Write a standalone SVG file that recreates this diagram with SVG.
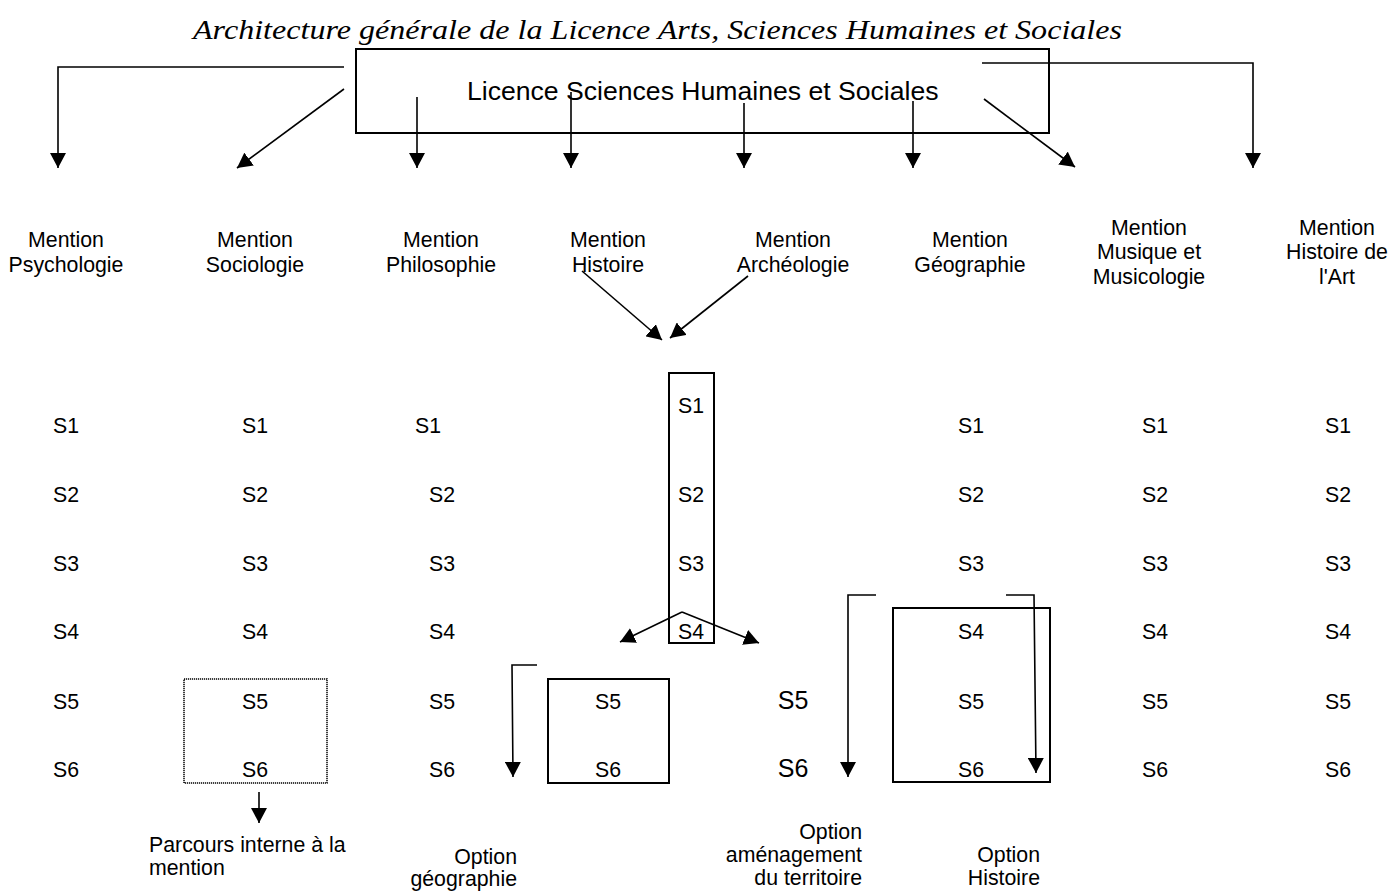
<svg xmlns="http://www.w3.org/2000/svg" width="1394" height="891" viewBox="0 0 1394 891">
<defs>
<marker id="ah" viewBox="0 0 15 16" refX="15" refY="8" markerWidth="15" markerHeight="16" markerUnits="userSpaceOnUse" orient="auto">
<path d="M0,0 L15,8 L0,16 z" fill="#000"/>
</marker>
</defs>
<style>
text{font-family:"Liberation Sans",Arial,sans-serif;font-size:21.3px;fill:#000}
.t{font-family:"Liberation Serif","Times New Roman",serif;font-style:italic;font-size:27.5px}
.big{font-size:26.6px}
.bs{font-size:25px}
.c{text-anchor:middle}
.r{text-anchor:end}
.box{fill:none;stroke:#000;stroke-width:2}
.dot{fill:none;stroke:#000;stroke-width:1.5;stroke-dasharray:1.2 0.8}
.cn path,.cn line,.cn polyline{fill:none;stroke:#000;stroke-width:1.6;marker-end:url(#ah)}
</style>
<rect width="1394" height="891" fill="#fff"/>
<text class="t" x="193" y="39" textLength="929" lengthAdjust="spacingAndGlyphs">Architecture générale de la Licence Arts, Sciences Humaines et Sociales</text>

<g id="licence">
<rect class="box" x="356" y="49" width="693" height="84"/>
<text class="big" x="467" y="100">Licence Sciences Humaines et Sociales</text>
</g>

<g id="m-psychologie">
<text class="c" x="66" y="247">Mention</text><text class="c" x="66" y="272">Psychologie</text>
<text class="c" x="66" y="433">S1</text><text class="c" x="66" y="502">S2</text><text class="c" x="66" y="571">S3</text><text class="c" x="66" y="639">S4</text><text class="c" x="66" y="709">S5</text><text class="c" x="66" y="777">S6</text>
</g>

<g id="m-sociologie">
<text class="c" x="255" y="247">Mention</text><text class="c" x="255" y="272">Sociologie</text>
<text class="c" x="255" y="433">S1</text><text class="c" x="255" y="502">S2</text><text class="c" x="255" y="571">S3</text><text class="c" x="255" y="639">S4</text>
<rect class="dot" x="184" y="679" width="143" height="104"/>
<text class="c" x="255" y="709">S5</text><text class="c" x="255" y="777">S6</text>
<text x="149" y="852">Parcours interne à la</text><text x="149" y="875">mention</text>
</g>

<g id="m-philosophie">
<text class="c" x="441" y="247">Mention</text><text class="c" x="441" y="272">Philosophie</text>
<text class="c" x="428" y="433">S1</text><text class="c" x="442" y="502">S2</text><text class="c" x="442" y="571">S3</text><text class="c" x="442" y="639">S4</text><text class="c" x="442" y="709">S5</text><text class="c" x="442" y="777">S6</text>
</g>

<g id="m-histoire">
<text class="c" x="608" y="247">Mention</text><text class="c" x="608" y="272">Histoire</text>
</g>

<g id="m-archeologie">
<text class="c" x="793" y="247">Mention</text><text class="c" x="793" y="272">Archéologie</text>
</g>

<g id="tronc-commun">
<rect class="box" x="669" y="373" width="45" height="270"/>
<text class="c" x="691" y="413">S1</text><text class="c" x="691" y="502">S2</text><text class="c" x="691" y="571">S3</text><text class="c" x="691" y="639">S4</text>
</g>

<g id="opt-geographie">
<rect class="box" x="548" y="679" width="121" height="104"/>
<text class="c" x="608" y="709">S5</text><text class="c" x="608" y="777">S6</text>
<text class="r" x="517" y="864">Option</text><text class="r" x="517" y="886">géographie</text>
</g>

<g id="opt-amenagement">
<text class="c bs" x="793" y="709">S5</text><text class="c bs" x="793" y="777">S6</text>
<text class="r" x="862" y="839">Option</text><text class="r" x="862" y="862">aménagement</text><text class="r" x="862" y="885">du territoire</text>
</g>

<g id="m-geographie">
<text class="c" x="970" y="247">Mention</text><text class="c" x="970" y="272">Géographie</text>
<text class="c" x="971" y="433">S1</text><text class="c" x="971" y="502">S2</text><text class="c" x="971" y="571">S3</text>
<rect class="box" x="893" y="608" width="157" height="174"/>
<text class="c" x="971" y="639">S4</text><text class="c" x="971" y="709">S5</text><text class="c" x="971" y="777">S6</text>
<text class="r" x="1040" y="862">Option</text><text class="r" x="1040" y="885">Histoire</text>
</g>

<g id="m-musique">
<text class="c" x="1149" y="235">Mention</text><text class="c" x="1149" y="259">Musique et</text><text class="c" x="1149" y="284">Musicologie</text>
<text class="c" x="1155" y="433">S1</text><text class="c" x="1155" y="502">S2</text><text class="c" x="1155" y="571">S3</text><text class="c" x="1155" y="639">S4</text><text class="c" x="1155" y="709">S5</text><text class="c" x="1155" y="777">S6</text>
</g>

<g id="m-histoire-art">
<text class="c" x="1337" y="235">Mention</text><text class="c" x="1337" y="259">Histoire de</text><text class="c" x="1337" y="284">l'Art</text>
<text class="c" x="1338" y="433">S1</text><text class="c" x="1338" y="502">S2</text><text class="c" x="1338" y="571">S3</text><text class="c" x="1338" y="639">S4</text><text class="c" x="1338" y="709">S5</text><text class="c" x="1338" y="777">S6</text>
</g>

<g id="connectors" class="cn">
<polyline points="344,67 58,67 58,168"/>
<line x1="344" y1="89" x2="237" y2="168"/>
<line x1="417" y1="97" x2="417" y2="168"/>
<line x1="571" y1="92" x2="571" y2="168"/>
<line x1="744" y1="103" x2="744" y2="168"/>
<line x1="913" y1="101" x2="913" y2="168"/>
<line x1="984" y1="99" x2="1075" y2="167"/>
<polyline points="982,63 1253,63 1253,168"/>
<line x1="582" y1="271" x2="662" y2="340"/>
<line x1="748" y1="276" x2="670" y2="338"/>
<line x1="682" y1="612" x2="620" y2="642"/>
<line x1="682" y1="612" x2="759" y2="643"/>
<polyline points="537,665 512,665 513,777"/>
<polyline points="876,595 848,595 848,777"/>
<polyline points="1006,595 1034,595 1036,773"/>
<line x1="259" y1="792" x2="259" y2="823"/>
</g>
</svg>
